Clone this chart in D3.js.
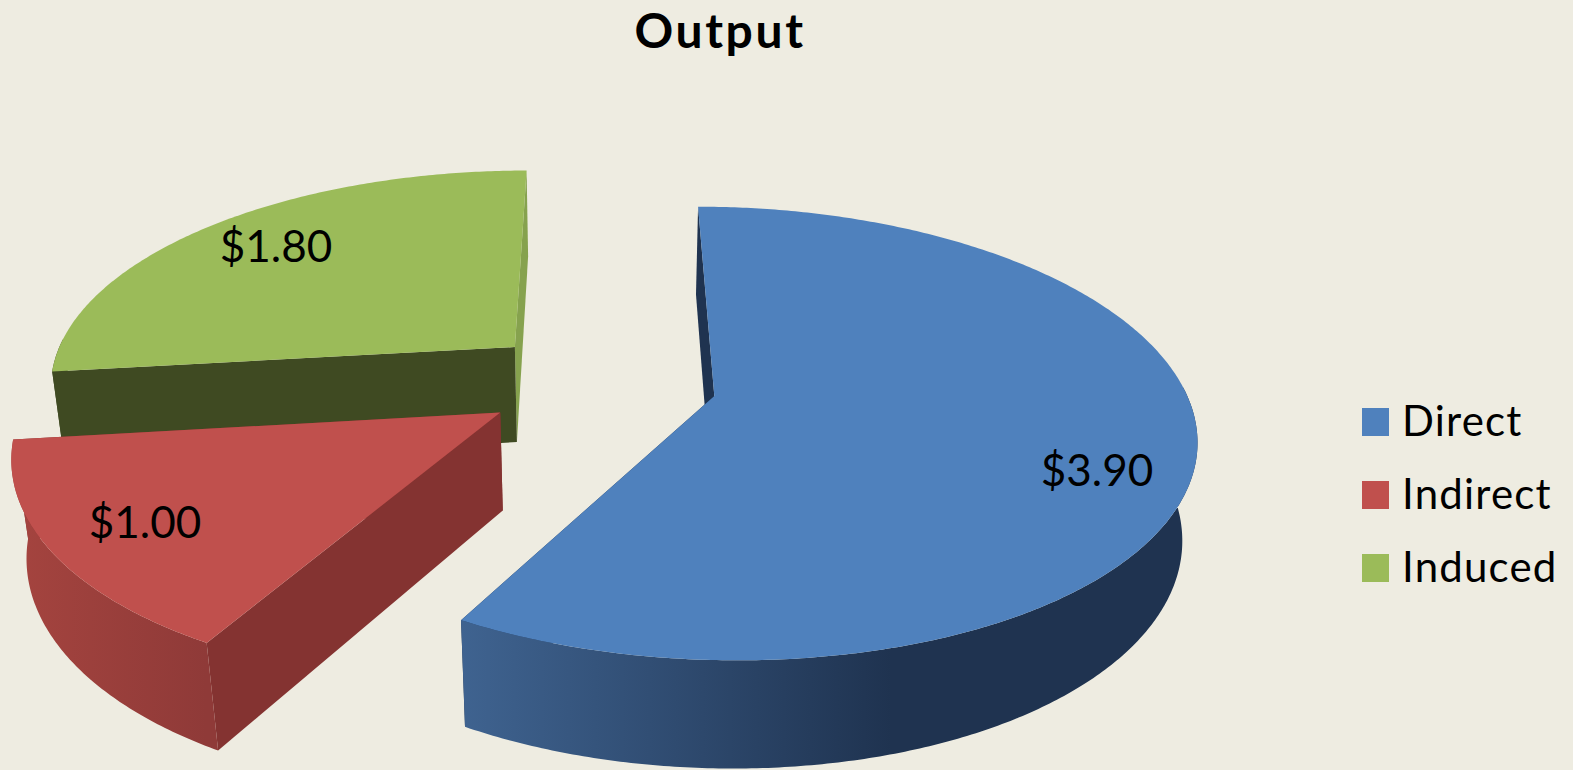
<!DOCTYPE html>
<html><head><meta charset="utf-8">
<script src="https://cdn.jsdelivr.net/npm/d3@7/dist/d3.min.js"></script>
<style>html,body{margin:0;padding:0;background:#eeece1;overflow:hidden}svg{display:block}text{font-family:Lato,"Noto Sans",sans-serif;fill:#000}</style>
</head><body><svg id="c" width="1573" height="770"></svg>
<script>
const categories = ["Direct","Indirect","Induced"];
const values = [3.9,1.0,1.8];
const labels = ["$3.90","$1.00","$1.80"];
const topColors = ["#4f81bd","#c0504d","#9bbb59"];
const startWallColors = ["#1f3350","#843331","#3f4a22"];
const endWallColors = ["#1f3350","#843331","#86a24e"];
const outerGrad = [["#3f6390","#1f3350"],["#a5443f","#8f3a38"],["#3f4a22","#3f4a22"]];

const W=1573,H=770;
const cx=600,cy=382,k=468,A=216,b=0.164,c=0.025,v=99,explode=0.25;
function project(X,Y,Z){const w=1+b*Y+c*Z;return [cx+k*X/w,cy+(-A*Y+v*Z)/w];}

const svg=d3.select("#c");
svg.append("rect").attr("width",W).attr("height",H).attr("fill","#eeece1");
const defs=svg.append("defs");
const pie=d3.pie().sort(null).startAngle(0).endAngle(2*Math.PI)(values);
const line=d3.line();

function rimAngles(d){
  const n=Math.ceil((d.endAngle-d.startAngle)/0.01);
  return d3.range(n+1).map(i=>d.startAngle+(d.endAngle-d.startAngle)*i/n);
}
function rim(as,ex,ey,Z){return as.map(a=>project(ex+Math.sin(a),ey+Math.cos(a),Z));}
function wall(ex,ey,a){
  const p=[ex+Math.sin(a),ey+Math.cos(a)];
  return [project(ex,ey,0),project(p[0],p[1],0),project(p[0],p[1],1),project(ex,ey,1)];
}
[2,1,0].forEach(i=>{
  const d=pie[i],mid=(d.startAngle+d.endAngle)/2;
  const ex=explode*Math.sin(mid),ey=explode*Math.cos(mid);
  const g=svg.append("g");
  g.append("path").attr("d",line(wall(ex,ey,d.endAngle))+"Z").attr("fill",endWallColors[i]);
  g.append("path").attr("d",line(wall(ex,ey,d.startAngle))+"Z").attr("fill",startWallColors[i]);
  const as=rimAngles(d);
  // the outer wall is only drawn where the rim faces the camera
  const front=as.filter(a=>Math.cos(a)<0.05);
  if(front.length>1){
    const t=rim(front,ex,ey,0),bt=rim(front,ex,ey,1);
    const x0=d3.min(t,p=>p[0]),x1=d3.max(t,p=>p[0]);
    const gid="g"+i;
    const lg=defs.append("linearGradient").attr("id",gid).attr("gradientUnits","userSpaceOnUse")
      .attr("x1",x0).attr("x2",i===0?x0+430:x1).attr("y1",0).attr("y2",0);
    lg.append("stop").attr("offset",0).attr("stop-color",outerGrad[i][0]);
    lg.append("stop").attr("offset",1).attr("stop-color",outerGrad[i][1]);
    g.append("path").attr("d",line(t.concat(bt.slice().reverse()))+"Z").attr("fill",`url(#${gid})`);
  }
  g.append("path").attr("d",line([project(ex,ey,0)].concat(rim(as,ex,ey,0)))+"Z").attr("fill",topColors[i]);
});

const labelPos=[[1097,486],[145,538],[276,262]];
svg.selectAll("text.val").data(labels).join("text").attr("class","val")
  .attr("x",(d,i)=>labelPos[i][0]).attr("y",(d,i)=>labelPos[i][1])
  .attr("text-anchor","middle").attr("font-size",44).text(d=>d);

svg.append("text").attr("x",720).attr("y",48).attr("text-anchor","middle")
  .attr("font-size",48).attr("font-weight",700).attr("letter-spacing",2.6).text("Output");

const legendY=d3.scalePoint().domain(categories).range([422,568]);
const lg=svg.selectAll("g.leg").data(categories).join("g").attr("class","leg")
  .attr("transform",d=>`translate(1362,${legendY(d)})`);
lg.append("rect").attr("y",-14).attr("width",27).attr("height",28).attr("fill",(d,i)=>topColors[i]);
lg.append("text").attr("x",40).attr("y",14).attr("font-size",42).attr("letter-spacing",1.2).text(d=>d);
</script></body></html>
